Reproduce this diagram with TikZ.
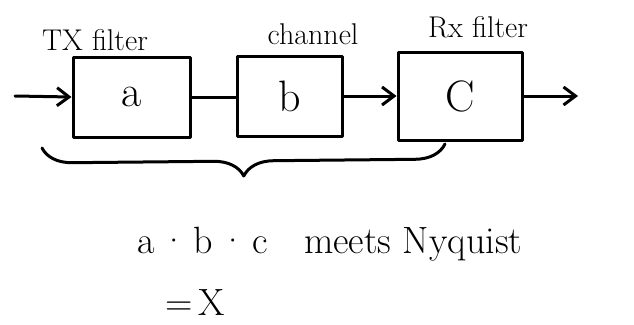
\documentclass[tikz,border=0pt]{standalone}
\usetikzlibrary{arrows.meta,decorations.pathreplacing}
\begin{document}
\begin{tikzpicture}[x=1pt,y=-1pt,
  ink/.style={line width=3pt,line cap=round,line join=round},
  blk/.style={ink,draw,minimum width=#1,minimum height=80pt,inner sep=0pt,font=\fontsize{44}{46}\selectfont},
  tag/.style={font=\fontsize{30}{32}\selectfont,inner sep=0pt},
  arr/.style={ink,-{Straight Barb[length=12pt,width=18pt,line width=3pt]}},
  note/.style={font=\fontsize{38}{40}\selectfont,inner sep=0pt,anchor=base west}]
  \useasboundingbox (0,0) rectangle (634,324);
  % the three blocks of the chain
  \node[blk=117pt] (a) at (131.5,97) {a};
  \node[blk=105pt] (b) at (289.5,96) {b};
  \node[blk=124pt,minimum height=88pt] (c) at (460,96) {C};
  % names written above the blocks
  \node[tag] (ta) at (95,40) {TX filter};
  \node[tag] (tb) at (313,34) {channel};
  \node[tag] (tc) at (478,27) {Rx filter};
  % signal path
  \coordinate (in) at (15,96);
  \coordinate (out) at (578,96);
  \draw[arr] (in) -- (a.west);
  \draw[ink] (a.east) -- (a.east -| b.west);
  \draw[arr] (b.east) -- (b.east -| c.west);
  \draw[arr] (c.east) -- (out);
  % brace grouping the whole chain
  \coordinate (bl) at (42,148);
  \coordinate (br) at (445,144);
  \draw[ink,decorate,decoration={brace,mirror,amplitude=30pt}] (bl) -- (br);
  % conclusion
  \node[note] (n1) at (137,253) {a\hspace{6pt}\textperiodcentered\hspace{6pt}b\hspace{6pt}\textperiodcentered\hspace{6pt}c\hspace{36pt}meets Nyquist};
  \node[note] (n2) at (165,315) {=\hspace{6pt}X};
\end{tikzpicture}
\end{document}
